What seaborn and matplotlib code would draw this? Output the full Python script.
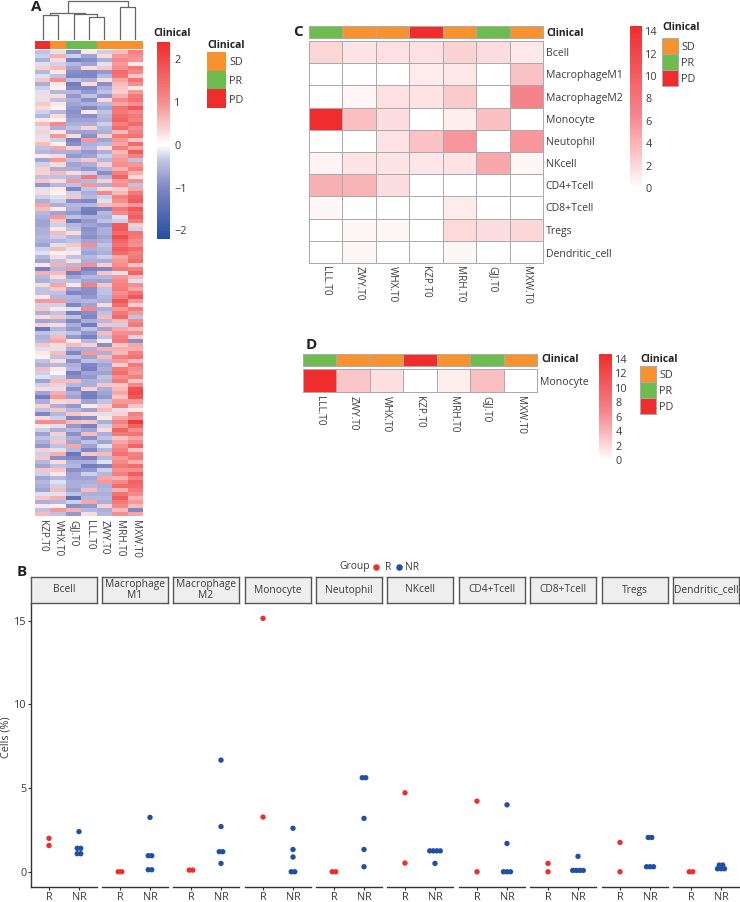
import numpy as np
import pandas as pd
import matplotlib
matplotlib.use('Agg')
import matplotlib.pyplot as plt
from matplotlib.colors import LinearSegmentedColormap, ListedColormap
from matplotlib.lines import Line2D
import seaborn as sns

W, H = 740, 902

# panel A, clustered expression heatmap (rows)
a_samples = ['KZP.T0', 'WHX.T0', 'GJJ.T0', 'LLL.T0', 'ZWY.T0', 'MRH.T0', 'MXW.T0']
a_clinical = [2, 0, 1, 1, 0, 0, 0]
kzp_t0 = [-0.4,-0.3,-0.6,-0.2,0.4,-0.5,-0.2,0.5,-0.6,-0.3,-0.2,0.3,-0.2,0.5,0.3,-0.3,-0.5,0.2,0.6,-0.2,0.4,-0.2,0.3,0.6,-0.4,-0.5,0.2,-0.7,-0.3,0.4,
          0.4,-0.4,0.5,-0.8,-0.2,0.3,-0.3,-0.6,0.8,0.6,-0.5,-0.6,-0.7,-0.7,-0.6,-0.6,-0.5,-0.6,-0.7,-0.3,-0.2,-0.5,-0.7,0.2,-1.1,0.7,-0.5,-0.6,0.3,-0.4,
          -0.4,0.2,0.9,-0.3,0.5,-0.6,0.3,-0.7,0.4,-1.3,-0.4,-0.6,-0.5,0.5,-0.2,0.2,0.1,-0.4,-0.6,0.6,-0.3,-0.2,-0.7,-0.3,0.3,-0.7,-1.2,-0.6,0.4,-0.4,
          -1.0,0.3,1.0,0.2,-0.3,-0.7,-0.4,-0.6,-0.8,0.4,-0.3,0.5,-0.5,-0.7,0.5,-0.3,-0.7,-0.5,-0.6,-0.7,-0.2,0.5,-0.6,0.2,-0.4,0.6]
whx_t0 = [-0.2,0.7,0.3,-0.3,0.6,0.2,-0.4,1.0,0.2,0.1,-0.5,0.3,-0.4,0.2,0.1,-0.5,0.3,0.1,1.1,-0.6,0.2,0.9,-0.3,0.1,0.8,-0.6,0.3,0.9,0.3,-0.6,
          0.6,-0.4,0.3,-0.5,0.2,0.1,-0.2,-0.3,-0.6,0.2,-0.7,0.9,0.5,-0.3,0.2,0.6,-0.3,-0.5,-0.2,0.6,0.1,0.3,-0.4,0.7,-0.5,0.6,0.3,-0.4,0.8,0.5,
          -0.4,-0.5,0.9,-0.3,0.2,-0.4,0.5,-0.6,0.3,-0.5,-0.3,0.6,0.8,0.3,-0.2,0.6,-0.4,0.3,-0.5,0.2,0.1,-0.3,0.6,0.4,-0.2,0.7,0.9,0.3,-0.6,0.5,
          -0.5,-0.3,1.0,-0.2,-0.6,0.4,-0.3,0.5,-0.4,-0.2,0.7,-0.9,0.3,-0.4,0.5,0.2,-0.5,-0.2,-0.3,0.6,-0.2,0.7,-0.5,0.1,0.9,-0.4]
gjj_t0 = [-0.9,-0.3,-1.1,-0.5,-0.7,-0.9,-1.0,-0.4,-1.2,-1.0,-0.5,-0.8,-0.6,-0.7,-0.8,-0.9,-0.8,-0.7,-0.6,-0.4,-0.7,0.3,-1.1,-0.9,0.4,-0.6,-0.8,-0.4,-0.7,-0.6,
          0.3,-0.5,0.9,-0.4,-1.0,-0.3,0.5,-0.9,-0.5,-0.6,-0.8,-0.4,-1.2,-0.5,-0.4,0.3,-0.5,-0.4,0.5,-0.2,0.2,-0.4,0.3,-0.5,0.9,-1.1,-0.7,-0.4,0.2,-0.7,
          -1.0,-0.5,-0.6,-1.0,-0.2,-1.1,-0.4,-1.0,-0.6,-0.8,-0.4,-0.8,0.2,0.6,-0.6,-1.0,-0.4,-0.9,-0.6,-0.5,-1.1,-0.9,0.6,-0.5,-0.9,-0.6,-0.7,0.4,-0.8,-0.5,
          0.5,-1.0,0.6,-0.8,-0.5,-0.9,-0.6,-0.7,0.8,-0.5,-1.3,-1.0,-0.6,-0.5,-0.9,-0.7,-0.7,-0.6,-0.6,-0.7,-0.4,-1.4,-0.3,-0.9,0.7,-0.8]
lll_t0 = [0.2,-0.7,-0.9,-0.7,0.3,-1.0,-1.0,-0.6,0.3,-1.0,-0.8,-0.4,-0.9,-0.6,-1.0,0.2,-0.9,-0.7,-0.6,0.4,-0.7,-0.9,0.9,-0.6,-0.5,-0.8,-0.7,0.5,-0.6,-0.8,
          -0.3,1.3,-0.5,0.9,-0.4,-0.6,-0.5,-1.0,-0.5,-1.1,-1.2,-0.6,-0.8,-0.7,-0.9,-0.8,-0.9,-0.7,1.0,-0.6,-0.7,-0.5,-0.6,1.0,-1.1,-0.8,-0.5,-0.7,1.2,-0.9,
          -0.9,-0.8,-0.5,-0.7,1.1,-0.9,-1.0,-0.6,-1.2,-0.4,-0.8,-1.1,-0.5,0.4,-0.6,0.9,-0.7,-0.4,-1.0,-1.1,-0.7,-0.8,-0.6,-0.6,0.4,-1.1,-1.2,-0.7,0.2,-0.7,
          0.3,-0.9,0.5,-1.1,-0.7,0.6,-0.9,-0.4,-0.7,-1.0,0.5,-1.1,-0.6,-1.2,-0.8,-0.3,-0.7,-0.6,-0.5,0.6,-0.6,-0.5,0.8,-0.8,-0.5,0.3]
zwy_t0 = [-0.3,0.3,-0.6,-0.2,0.5,-0.8,-0.5,0.3,-0.9,-0.6,-0.4,-0.8,0.3,-0.5,-0.7,-0.4,-0.5,-0.6,-0.3,-0.5,-0.6,0.4,-0.7,-0.5,0.3,-0.6,-0.3,-0.5,0.4,-0.5,
          -0.9,-0.5,0.4,-0.6,0.3,1.1,-0.3,-0.2,0.6,-1.0,-0.5,-0.6,-0.4,-0.8,-0.6,-0.6,-0.7,-0.6,-0.4,-0.5,-0.6,-0.3,-0.6,0.4,-1.0,0.5,-0.5,-0.7,0.5,-0.4,
          -0.4,-0.5,-0.6,0.3,-0.6,-0.4,0.6,-0.5,0.5,-0.7,0.6,-0.4,0.2,-0.9,0.7,-0.6,0.6,-0.5,-0.7,-0.6,-0.7,-0.4,-0.5,0.5,-0.6,-0.7,-0.8,-0.4,0.4,0.6,
          -0.2,0.2,-0.6,-0.3,0.3,-0.6,-0.4,-0.7,-0.2,-0.5,0.6,-0.5,-0.2,-1.0,-0.3,-0.5,0.8,0.9,-0.6,-0.5,-0.6,-0.5,-0.6,0.4,-0.6,-0.5]
mrh_t0 = [0.6,0.9,1.1,0.9,1.0,1.5,1.4,0.8,0.6,0.5,0.4,0.7,1.1,0.8,1.4,1.3,1.5,1.6,1.2,1.5,0.6,1.3,0.9,0.8,1.2,0.6,0.8,0.9,1.0,0.7,
          1.2,1.6,0.9,1.0,0.4,0.6,1.2,1.0,0.7,1.3,1.1,-0.2,-0.3,1.7,1.8,1.5,1.9,1.6,1.4,1.7,1.5,0.8,0.9,1.0,1.3,-0.2,0.9,1.1,1.2,1.3,
          1.0,1.2,1.8,1.5,0.9,1.3,1.5,0.6,-0.3,0.8,1.0,1.2,1.3,0.5,0.7,0.6,1.2,0.9,0.4,1.3,1.5,1.0,1.3,0.5,0.6,0.8,0.5,0.9,1.2,-0.2,
          0.4,0.8,1.2,0.9,1.6,1.3,0.5,0.8,1.0,1.2,1.4,0.9,1.1,1.3,1.0,1.2,0.7,1.1,1.5,0.7,1.4,1.7,1.3,1.1,0.6,1.0]
mxw_t0 = [1.2,1.0,0.9,0.2,1.3,1.1,0.5,1.4,1.0,0.2,0.9,1.3,1.4,1.0,1.8,1.1,1.3,1.2,1.5,1.0,1.2,1.4,0.5,1.5,0.8,1.7,1.2,-0.4,0.9,1.2,
          0.7,0.3,1.0,-0.4,0.8,1.3,1.6,1.7,0.9,1.8,1.5,1.7,1.3,0.4,-0.3,1.4,1.3,1.1,1.0,1.5,1.2,1.3,1.5,0.5,1.2,1.6,0.6,-0.2,1.0,0.8,
          1.4,1.8,0.9,0.4,1.3,0.9,-0.4,1.1,1.3,0.6,1.0,0.4,-0.9,0.8,0.7,1.2,1.4,0.6,1.3,1.0,0.9,1.2,0.5,1.1,1.9,2.0,1.8,0.9,0.5,0.2,
          1.2,1.0,2.2,1.6,1.0,1.4,0.8,1.1,1.6,0.5,1.2,1.3,0.7,1.5,1.0,1.7,1.2,1.6,1.5,1.3,1.1,0.7,0.9,0.6,-1.0,0.8]

# dendrogram merges: left node, right node, height (nodes 7+ are earlier merges)
merge_left = [0, 3, 2, 7, 5, 10]
merge_right = [1, 4, 8, 9, 6, 11]
merge_height = [75, 70, 78, 82, 100, 120]

# panels C and D
c_samples = ['LLL.T0', 'ZWY.T0', 'WHX.T0', 'KZP.T0', 'MRH.T0', 'GJJ.T0', 'MXW.T0']
c_clinical = [1, 0, 0, 2, 0, 1, 0]
c_cells = ['Bcell', 'MacrophageM1', 'MacrophageM2', 'Monocyte', 'Neutophil', 'NKcell',
           'CD4+Tcell', 'CD8+Tcell', 'Tregs', 'Dendritic_cell']
c_values = [[2.2, 1.4, 1.6, 1.6, 2.3, 1.8, 1.2],
            [0, 0, 0, 1.0, 1.2, 0, 3.2],
            [0, 0.5, 1.6, 1.5, 2.8, 0, 6.7],
            [15.1, 3.3, 1.7, 0, 0.9, 3.3, 0],
            [0, 0, 1.5, 3.2, 5.6, 0, 5.6],
            [0.6, 1.4, 1.4, 1.3, 1.5, 4.7, 0.5],
            [4.2, 4.0, 1.7, 0, 0, 0, 0],
            [0.5, 0, 0, 0, 1.0, 0, 0],
            [0, 0.4, 0.4, 0, 2.0, 1.7, 2.1],
            [0, 0.4, 0, 0, 0.4, 0, 0]]
d_values = [[15.1, 3.0, 1.7, 0, 0.9, 3.4, 0]]

# panel B
b_cells = ['Bcell', 'Macrophage\nM1', 'Macrophage\nM2', 'Monocyte', 'Neutophil', 'NKcell',
           'CD4+Tcell', 'CD8+Tcell', 'Tregs', 'Dendritic_cell']
r_values = [[2.0, 1.57], [0, 0], [0.1, 0.1], [15.14, 3.27], [0, 0],
            [4.72, 0.52], [4.22, 0], [0.5, 0], [1.75, 0], [0, 0]]
nr_values = [[2.4, 1.4, 1.4, 1.08, 1.08], [3.25, 0.96, 0.96, 0.12, 0.12],
             [6.67, 2.7, 1.2, 1.2, 0.5], [2.6, 1.33, 0.88, 0, 0],
             [5.62, 5.62, 3.19, 1.33, 0.3], [1.25, 1.25, 1.25, 1.25, 0.5],
             [4.0, 1.69, 0, 0, 0], [0.92, 0.08, 0.08, 0.08, 0.08],
             [2.05, 2.05, 0.3, 0.3, 0.3], [0.4, 0.4, 0.18, 0.18, 0.18]]

clinical_names = ['SD', 'PR', 'PD']
orange, green, red, navy = '#F7922E', '#6CBC50', '#EF2D2D', '#1F4FA6'
clinical_colors = [orange, green, red]
grey_line = '#ABABAB'
text_col = '#3C3C3C'

sns.set_style('white')
plt.rcParams['font.family'] = ['Open Sans', 'DejaVu Sans']
plt.rcParams['font.size'] = 8

fig = plt.figure(figsize=(W / 100, H / 100), dpi=100)


def px_axes(x0, y0, x1, y1):
    return fig.add_axes([x0 / W, 1 - y1 / H, (x1 - x0) / W, (y1 - y0) / H])


def px_text(x, y, s, **kw):
    kw.setdefault('va', 'center')
    kw.setdefault('color', text_col)
    fig.text(x / W, 1 - y / H, s, **kw)


def clinical_bar(box, codes, lw=0.5):
    ax = px_axes(*box)
    sns.heatmap(pd.DataFrame([codes]), ax=ax, cmap=ListedColormap(clinical_colors), vmin=-0.5, vmax=2.5,
                cbar=False, linewidths=lw, linecolor=grey_line, xticklabels=False, yticklabels=False)
    ax.collections[0].set_clip_on(False)


def clinical_legend(box, title_xy, lw=0.5):
    ax = px_axes(*box)
    sns.heatmap(pd.DataFrame({'c': [0, 1, 2]}), ax=ax, cmap=ListedColormap(clinical_colors), vmin=-0.5, vmax=2.5,
                cbar=False, linewidths=lw, linecolor=grey_line, xticklabels=False, yticklabels=clinical_names)
    ax.collections[0].set_clip_on(False)
    ax.yaxis.tick_right()
    ax.tick_params(axis='y', length=0, rotation=0, labelsize=7.8, labelcolor=text_col, pad=2.5)
    px_text(title_xy[0], title_xy[1], 'Clinical', fontweight='bold', fontsize=7.5, color='#222222')


def value_heat(box, cbar_box, values, rows, cols, ticks, vmax, xpad):
    ax = px_axes(*box)
    cax = px_axes(*cbar_box)
    sns.heatmap(pd.DataFrame(values, index=rows, columns=cols), ax=ax, cbar_ax=cax, cmap=white_red,
                vmin=0, vmax=vmax, linewidths=0.6, linecolor=grey_line, cbar_kws={'ticks': ticks})
    ax.collections[0].set_clip_on(False)
    ax.yaxis.tick_right()
    ax.tick_params(axis='y', length=0, rotation=0, labelsize=7.6, labelcolor=text_col, pad=2)
    ax.tick_params(axis='x', length=0, rotation=-90, labelsize=7.2, labelcolor=text_col, pad=xpad)
    cax.tick_params(length=0, labelsize=7.8, labelcolor=text_col, pad=2.5)


white_red = LinearSegmentedColormap.from_list('white_red', [(0, '#FFFFFF'), (0.23, '#FABFC2'), (0.46, '#F5848A'), (1, red)])
blue_white_red = LinearSegmentedColormap.from_list(
    'blue_white_red', [(0, '#17459C'), (0.2917, '#8087C5'), (0.4167, '#BFC2E3'), (0.5, '#FFFFFF'),
                       (0.5833, '#FAD0D0'), (0.7083, '#F58F8F'), (1, red)])

# A
df_a = pd.DataFrame(dict(zip(a_samples, [kzp_t0, whx_t0, gjj_t0, lll_t0, zwy_t0, mrh_t0, mxw_t0])))
ax_a = px_axes(35, 50, 143, 516)
cax_a = px_axes(157, 42, 170, 239)
sns.heatmap(df_a, ax=ax_a, cbar_ax=cax_a, cmap=blue_white_red, center=0, vmin=-2.2, vmax=2.4,
            yticklabels=False, cbar_kws={'ticks': [-2, -1, 0, 1, 2]})
ax_a.tick_params(axis='x', length=0, rotation=-90, labelsize=7.2, labelcolor=text_col, pad=3)
cax_a.tick_params(length=0, labelsize=7.8, labelcolor=text_col, pad=3)
clinical_bar((35, 41, 143, 49), a_clinical, lw=0)
px_text(153, 34, 'Clinical', fontweight='bold', fontsize=7.5, color='#222222')
clinical_legend((207, 52, 226, 108), (207, 46), lw=0)

ax_tree = px_axes(35, 0, 143, 40)
node_x = {i: i + 0.5 for i in range(len(a_samples))}
node_h = {i: 0 for i in range(len(a_samples))}
for n, (left, right, height) in enumerate(zip(merge_left, merge_right, merge_height)):
    ax_tree.plot([node_x[left], node_x[left], node_x[right], node_x[right]],
                 [node_h[left], height, height, node_h[right]], color='#666666', lw=0.9)
    node_x[7 + n] = (node_x[left] + node_x[right]) / 2
    node_h[7 + n] = height
ax_tree.set_xlim(0, 7)
ax_tree.set_ylim(0, 122)
ax_tree.axis('off')

# C
value_heat((309, 41, 543, 263), (630, 26, 642, 188), c_values, c_cells, c_samples, list(range(0, 15, 2)), 14.46, 2.5)
clinical_bar((309, 26, 543, 38), c_clinical)
px_text(546, 33, 'Clinical', fontweight='bold', fontsize=7.5, color='#222222')
clinical_legend((662, 38, 678, 86), (662, 28))

# D
value_heat((303, 369, 537, 392), (599, 354, 612, 460), d_values, ['Monocyte'], c_samples, list(range(0, 15, 2)), 14.7, 3)
clinical_bar((303, 354, 537, 366), c_clinical)
px_text(541, 360, 'Clinical', fontweight='bold', fontsize=7.5, color='#222222')
clinical_legend((640, 366, 656, 414), (640, 359))

# B
panel_left = [31, 102, 173, 245, 316, 387, 459, 530, 602, 673]
rows = []
for cell, r_vals, nr_vals in zip(b_cells, r_values, nr_values):
    for group, vals, base in (('R', r_vals, 0), ('NR', nr_vals, 1)):
        for v in set(vals):
            n = vals.count(v)
            for i in range(n):
                rows.append((cell, group, base + (i - (n - 1) / 2) * 0.117, v))
df_b = pd.DataFrame(rows, columns=['cell', 'Group', 'pos', 'value'])

for i, (cell, x0) in enumerate(zip(b_cells, panel_left)):
    ax = px_axes(x0, 603, x0 + 66, 887)
    sns.scatterplot(data=df_b[df_b['cell'] == cell], x='pos', y='value', hue='Group',
                    palette={'R': red, 'NR': navy}, s=15, linewidth=0, legend=False, ax=ax, clip_on=False)
    ax.set_xlim(-0.6, 1.6)
    ax.set_ylim(-0.91, 16.06)
    ax.set_xticks([0, 1], ['R', 'NR'])
    ax.set_xlabel('')
    sns.despine(ax=ax, left=i > 0)
    ax.spines['bottom'].set_color('#333333')
    ax.spines['bottom'].set_linewidth(1)
    if i == 0:
        ax.spines['left'].set_color('#333333')
        ax.spines['left'].set_linewidth(1)
        ax.set_yticks([0, 5, 10, 15])
        ax.set_ylabel('Cells (%)', fontsize=7.8, color=text_col)
        ax.yaxis.set_label_coords(-0.30, 0.528)
    else:
        ax.set_yticks([])
        ax.set_ylabel('')
    ax.tick_params(axis='both', length=2, width=0.8, color='#333333', labelsize=7.8, labelcolor=text_col, pad=1.5)
    ax.tick_params(axis='y', left=i == 0)
    ax.tick_params(axis='x', bottom=True)

    strip = px_axes(x0, 577, x0 + 66, 603)
    strip.set_facecolor('#EEEEEE')
    strip.set_xticks([])
    strip.set_yticks([])
    for sp in strip.spines.values():
        sp.set_visible(True)
        sp.set_color('#555555')
        sp.set_linewidth(1)
    strip.text(0.5, 0.5, cell, ha='center', va='center', fontsize=7.4, color=text_col,
               linespacing=1.05, transform=strip.transAxes)

px_text(339, 567, 'Group', fontsize=7.4)
px_text(385, 567, 'R', fontsize=7.4)
px_text(405, 567, 'NR', fontsize=7.4)
for x, col in ((376, red), (399, navy)):
    fig.add_artist(Line2D([x / W], [1 - 567 / H], marker='o', ms=4.7, color=col, mew=0, transform=fig.transFigure))

for letter, x, y in (('A', 31, 7), ('B', 17, 572), ('C', 293, 32), ('D', 306, 345)):
    px_text(x, y, letter, fontweight='bold', fontsize=11, color='#222222')

fig.savefig('out.png', dpi=100)
